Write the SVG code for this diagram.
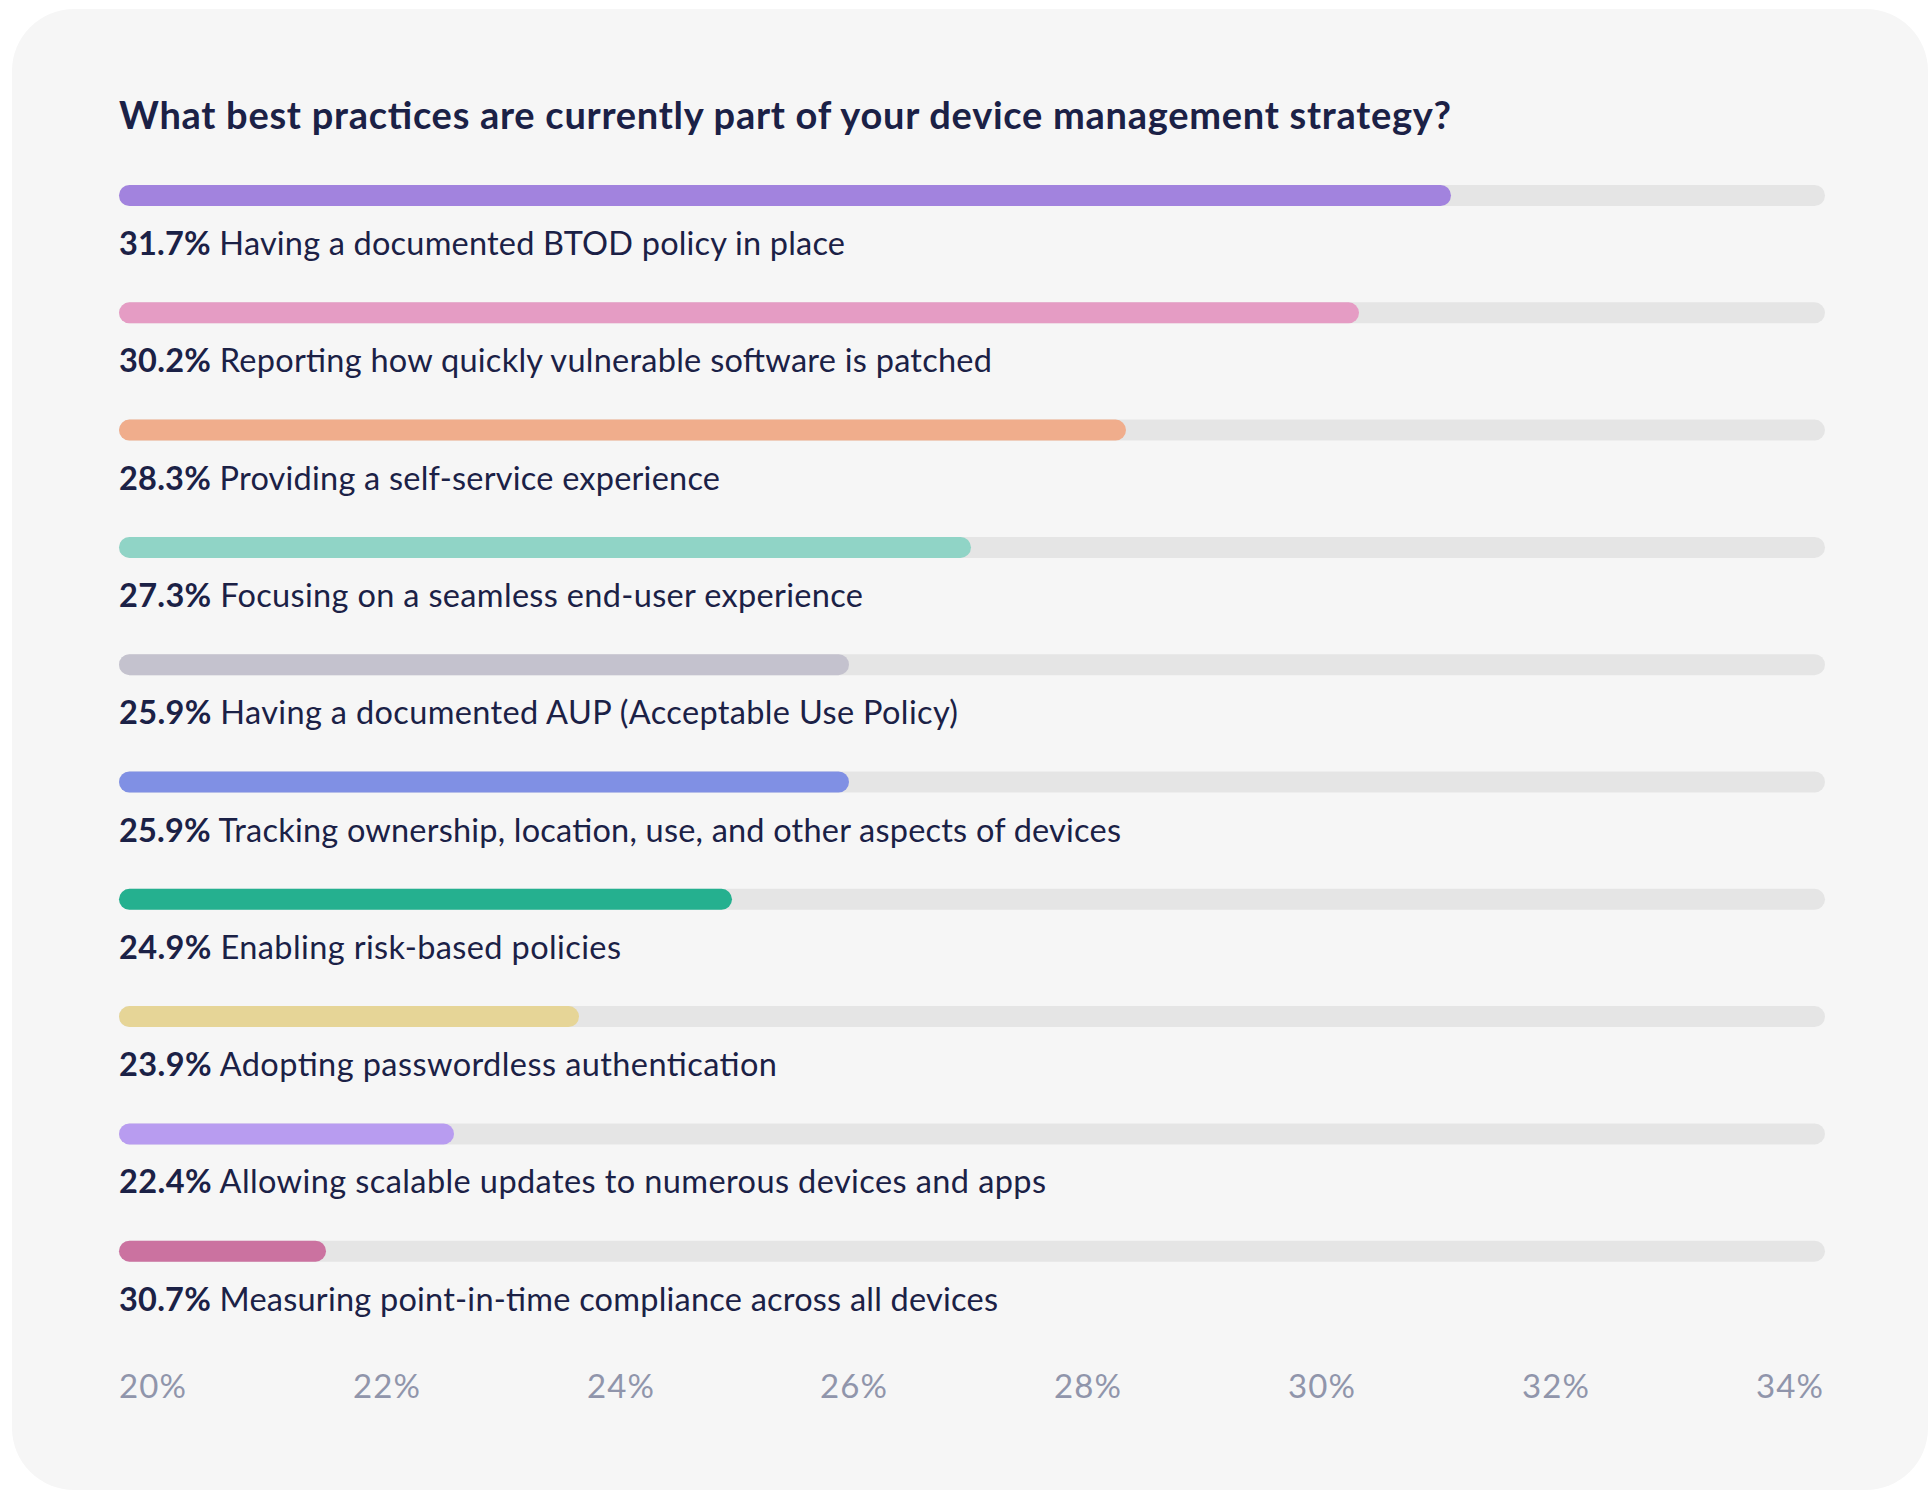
<svg xmlns="http://www.w3.org/2000/svg" width="1928" height="1490" viewBox="0 0 1928 1490">
<style>
.title{font-family:Lato,"Noto Sans",sans-serif;font-weight:700;font-size:38px;fill:#1b2146}
.lbl{font-family:Lato,"Noto Sans",sans-serif;font-size:32.5px;fill:#1b2146}
.pct{font-weight:700}
.track{fill:#e5e5e5}
.axis{font-family:Lato,"Noto Sans",sans-serif;font-weight:400;font-size:33px;fill:#9095ab}
</style>
<rect x="0" y="0" width="1928" height="1490" fill="#ffffff"/>
<rect x="12" y="9" width="1916" height="1481" rx="62" fill="#f6f6f6"/>
<text class="title" x="119" y="129" textLength="1332" lengthAdjust="spacing">What best practices are currently part of your device management strategy?</text>
<g id="rows">
<g id="row1">
<rect class="track" x="119" y="185" width="1706" height="21" rx="10.5"/>
<rect x="119" y="185" width="1332" height="21" rx="10.5" fill="#a283de"/>
<text class="lbl" x="119" y="255" textLength="726" lengthAdjust="spacing"><tspan class="pct">31.7%</tspan> Having a documented BTOD policy in place</text>
</g>
<g id="row2">
<rect class="track" x="119" y="302.3" width="1706" height="21" rx="10.5"/>
<rect x="119" y="302.3" width="1240" height="21" rx="10.5" fill="#e59cc4"/>
<text class="lbl" x="119" y="372.3" textLength="873" lengthAdjust="spacing"><tspan class="pct">30.2%</tspan> Reporting how quickly vulnerable software is patched</text>
</g>
<g id="row3">
<rect class="track" x="119" y="419.6" width="1706" height="21" rx="10.5"/>
<rect x="119" y="419.6" width="1007" height="21" rx="10.5" fill="#f0ad8c"/>
<text class="lbl" x="119" y="489.6" textLength="601" lengthAdjust="spacing"><tspan class="pct">28.3%</tspan> Providing a self-service experience</text>
</g>
<g id="row4">
<rect class="track" x="119" y="536.9" width="1706" height="21" rx="10.5"/>
<rect x="119" y="536.9" width="852" height="21" rx="10.5" fill="#90d4c6"/>
<text class="lbl" x="119" y="606.9" textLength="744" lengthAdjust="spacing"><tspan class="pct">27.3%</tspan> Focusing on a seamless end-user experience</text>
</g>
<g id="row5">
<rect class="track" x="119" y="654.2" width="1706" height="21" rx="10.5"/>
<rect x="119" y="654.2" width="730" height="21" rx="10.5" fill="#c4c2ce"/>
<text class="lbl" x="119" y="724.2" textLength="839" lengthAdjust="spacing"><tspan class="pct">25.9%</tspan> Having a documented AUP (Acceptable Use Policy)</text>
</g>
<g id="row6">
<rect class="track" x="119" y="771.5" width="1706" height="21" rx="10.5"/>
<rect x="119" y="771.5" width="730" height="21" rx="10.5" fill="#8090e4"/>
<text class="lbl" x="119" y="841.5" textLength="1002" lengthAdjust="spacing"><tspan class="pct">25.9%</tspan> Tracking ownership, location, use, and other aspects of devices</text>
</g>
<g id="row7">
<rect class="track" x="119" y="888.8" width="1706" height="21" rx="10.5"/>
<rect x="119" y="888.8" width="613" height="21" rx="10.5" fill="#25b08f"/>
<text class="lbl" x="119" y="958.8" textLength="502" lengthAdjust="spacing"><tspan class="pct">24.9%</tspan> Enabling risk-based policies</text>
</g>
<g id="row8">
<rect class="track" x="119" y="1006.1" width="1706" height="21" rx="10.5"/>
<rect x="119" y="1006.1" width="460" height="21" rx="10.5" fill="#e6d597"/>
<text class="lbl" x="119" y="1076.1" textLength="658" lengthAdjust="spacing"><tspan class="pct">23.9%</tspan> Adopting passwordless authentication</text>
</g>
<g id="row9">
<rect class="track" x="119" y="1123.4" width="1706" height="21" rx="10.5"/>
<rect x="119" y="1123.4" width="335" height="21" rx="10.5" fill="#b89cf0"/>
<text class="lbl" x="119" y="1193.4" textLength="927" lengthAdjust="spacing"><tspan class="pct">22.4%</tspan> Allowing scalable updates to numerous devices and apps</text>
</g>
<g id="row10">
<rect class="track" x="119" y="1240.7" width="1706" height="21" rx="10.5"/>
<rect x="119" y="1240.7" width="207" height="21" rx="10.5" fill="#cb72a0"/>
<text class="lbl" x="119" y="1310.7" textLength="879" lengthAdjust="spacing"><tspan class="pct">30.7%</tspan> Measuring point-in-time compliance across all devices</text>
</g>
</g>
<g id="axis">
<text class="axis" x="119" y="1398" textLength="67" lengthAdjust="spacing">20%</text>
<text class="axis" x="353" y="1398" textLength="67" lengthAdjust="spacing">22%</text>
<text class="axis" x="587" y="1398" textLength="67" lengthAdjust="spacing">24%</text>
<text class="axis" x="820" y="1398" textLength="67" lengthAdjust="spacing">26%</text>
<text class="axis" x="1054" y="1398" textLength="67" lengthAdjust="spacing">28%</text>
<text class="axis" x="1288" y="1398" textLength="67" lengthAdjust="spacing">30%</text>
<text class="axis" x="1522" y="1398" textLength="67" lengthAdjust="spacing">32%</text>
<text class="axis" x="1756" y="1398" textLength="67" lengthAdjust="spacing">34%</text>
</g>
</svg>
